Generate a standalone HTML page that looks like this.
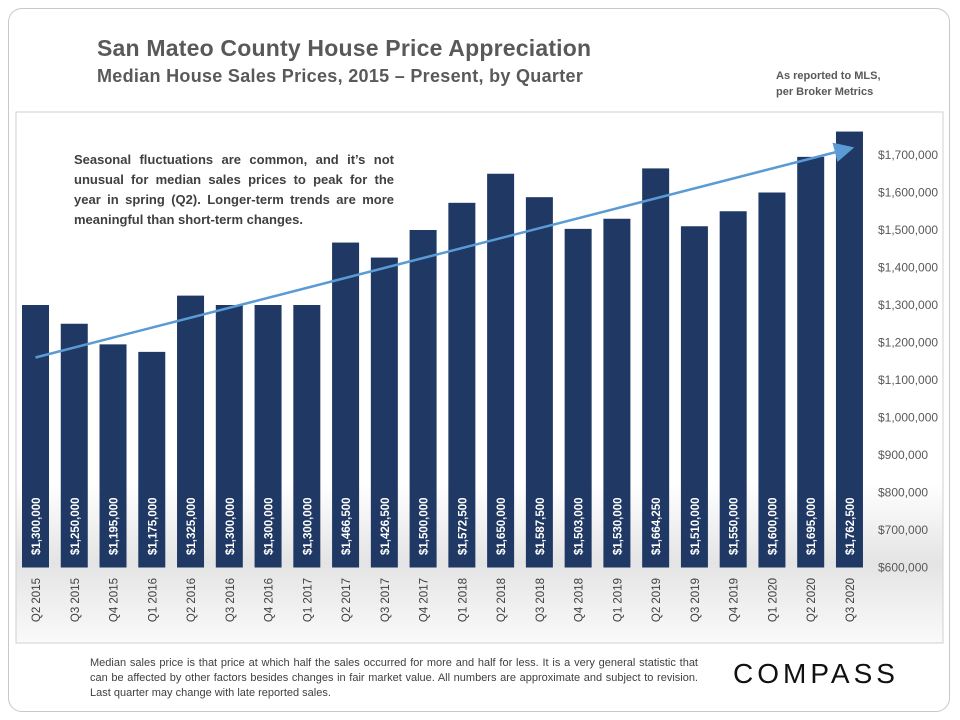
<!DOCTYPE html>
<html><head><meta charset="utf-8"><style>
body{margin:0;width:960px;height:720px;background:#fff;font-family:"Liberation Sans",sans-serif;overflow:hidden}
.frame{position:absolute;left:8px;top:8px;width:940px;height:702px;border:1px solid #c8c8c8;border-radius:14px}
.t1{position:absolute;left:97px;top:35px;font-size:23px;font-weight:bold;color:#595959;letter-spacing:0.2px}
.t2{position:absolute;left:97px;top:66px;font-size:18px;font-weight:bold;color:#595959;letter-spacing:0.3px}
.src{position:absolute;left:776px;top:68px;font-size:11px;font-weight:bold;color:#595959;line-height:16px}
.note{position:absolute;left:74px;top:150px;width:320px;font-size:13px;font-weight:bold;color:#404040;line-height:20px;text-align:justify}
.foot{position:absolute;left:90px;top:656px;width:608px;font-size:11px;color:#404040;line-height:15px;text-align:justify}
.logo{position:absolute;left:733px;top:658px;font-size:28px;letter-spacing:4px;color:#111}
</style></head><body>
<div class="frame"></div>
<div class="t1">San Mateo County House Price Appreciation</div>
<div class="t2">Median House Sales Prices, 2015 – Present, by Quarter</div>
<div class="src">As reported to MLS,<br>per Broker Metrics</div>
<svg id="chart" width="960" height="720" style="position:absolute;left:0;top:0">
<defs>
<linearGradient id="bg" x1="0" y1="0" x2="0" y2="1">
<stop offset="0" stop-color="#fff"/><stop offset="0.7" stop-color="#fff"/><stop offset="0.85" stop-color="#e4e4e4"/><stop offset="1" stop-color="#fafafa"/></linearGradient>
<marker id="ah" markerWidth="8" markerHeight="8" refX="6" refY="4" orient="auto"><path d="M0,0 L8,4 L0,8 Z" fill="#5b9bd5"/></marker>
</defs>
<rect x="16" y="112" width="927" height="531" fill="url(#bg)" stroke="#d0d0d0"/>
</svg>
<div class="note">Seasonal fluctuations are common, and it’s not unusual for median sales prices to peak for the year in spring (Q2). Longer-term trends are more meaningful than short-term changes.</div>
<div class="foot">Median sales price is that price at which half the sales occurred for more and half for less. It is a very general statistic that can be affected by other factors besides changes in fair market value. All numbers are approximate and subject to revision. Last quarter may change with late reported sales.</div>
<div class="logo">COMPASS</div>
<script>
const categories=["Q2 2015","Q3 2015","Q4 2015","Q1 2016","Q2 2016","Q3 2016","Q4 2016","Q1 2017","Q2 2017","Q3 2017","Q4 2017","Q1 2018","Q2 2018","Q3 2018","Q4 2018","Q1 2019","Q2 2019","Q3 2019","Q4 2019","Q1 2020","Q2 2020","Q3 2020"];
const values=[1300000,1250000,1195000,1175000,1325000,1300000,1300000,1300000,1466500,1426500,1500000,1572500,1650000,1587500,1503000,1530000,1664250,1510000,1550000,1600000,1695000,1762500];
const yTicks=[600000,700000,800000,900000,1000000,1100000,1200000,1300000,1400000,1500000,1600000,1700000];
const trendStart=1160000, trendEnd=1717000;
const svg=document.getElementById('chart');
const NS='http://www.w3.org/2000/svg';
const y=v=>567.5-(v-600000)/100000*37.5;
const x=i=>35.5+i*38.76;
const fmt=v=>'$'+v.toLocaleString('en-US');
function mk(t,a){const e=document.createElementNS(NS,t);for(const k in a)e.setAttribute(k,a[k]);svg.appendChild(e);return e;}
yTicks.forEach(v=>{
 const e=mk('text',{x:878,y:y(v)+4,'font-size':12,fill:'#595959'});
 e.textContent=fmt(v);
 
 
});
values.forEach((v,i)=>{
 const r=mk('rect',{x:x(i)-13.5,y:y(v),width:27,height:567.5-y(v),fill:'#1f3864'});
 
 
 const t=mk('text',{transform:`translate(${x(i)+4.5},555) rotate(-90)`,'font-size':11.5,'font-weight':'bold',fill:'#fff'});
 t.textContent=fmt(v);
 
 
 const c=mk('text',{transform:`translate(${x(i)+4.5},578) rotate(-90)`,'font-size':11.5,fill:'#404040','text-anchor':'end'});
 c.textContent=categories[i];
 
 
});
const ln=mk('line',{x1:x(0),y1:y(trendStart),x2:x(values.length-1),y2:y(trendEnd),stroke:'#5b9bd5','stroke-width':2.5,'marker-end':'url(#ah)'});


</script>
</body></html>
